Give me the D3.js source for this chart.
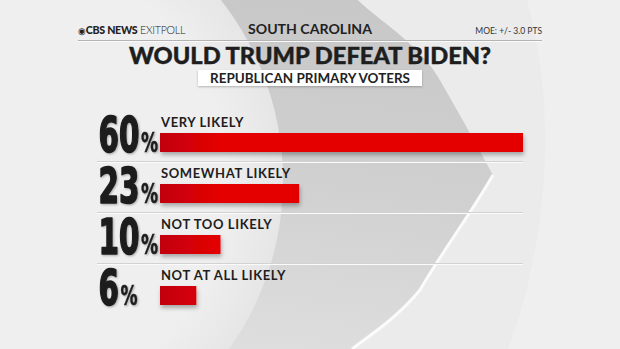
<!DOCTYPE html>
<html>
<head>
<meta charset="utf-8">
<script src="https://cdn.jsdelivr.net/npm/d3@7"></script>
<style>
  html, body { margin: 0; padding: 0; background: #ececec; }
  svg { display: block; }
</style>
</head>
<body>
<div id="chart"></div>
<script>
// ---- data ----
const categories = ["VERY LIKELY", "SOMEWHAT LIKELY", "NOT TOO LIKELY", "NOT AT ALL LIKELY"];
const values = [60, 23, 10, 6];
const headerLeftBold = "CBS NEWS";
const headerLeftLight = "EXITPOLL";
const headerCenter = "SOUTH CAROLINA";
const headerRight = "MOE: +/- 3.0 PTS";
const title = "WOULD TRUMP DEFEAT BIDEN?";
const subtitle = "REPUBLICAN PRIMARY VOTERS";

const W = 620, H = 349;
const svg = d3.select("#chart").append("svg").attr("width", W).attr("height", H);
const defs = svg.append("defs");

// ---- background ----
const bgGrad = defs.append("linearGradient").attr("id", "bg").attr("x1", 0).attr("y1", 0).attr("x2", 1).attr("y2", 1);
bgGrad.append("stop").attr("offset", 0).attr("stop-color", "#f2f2f2");
bgGrad.append("stop").attr("offset", 1).attr("stop-color", "#e7e7e7");
svg.append("rect").attr("width", W).attr("height", H).attr("fill", "url(#bg)");

// darker swoosh region
const swGrad = defs.append("linearGradient").attr("id", "sw").attr("x1", 0.2).attr("y1", 0).attr("x2", 0.1).attr("y2", 1);
swGrad.append("stop").attr("offset", 0).attr("stop-color", "#c8c8c8");
swGrad.append("stop").attr("offset", 0.45).attr("stop-color", "#cfcfcf");
swGrad.append("stop").attr("offset", 1).attr("stop-color", "#dedede");
svg.append("path")
  .attr("d", "M215,0 L358,0 C385,25 420,45 440,80 C460,115 480,150 493,175 C470,215 440,255 420,290 C395,320 370,335 352,349 L225,349 Z")
  .attr("fill", "url(#sw)");
// lighter area right of swoosh
svg.append("path")
  .attr("d", "M358,0 L620,0 L620,349 L352,349 C370,335 395,320 420,290 C440,255 470,215 493,175 C480,150 460,115 440,80 C420,45 385,25 358,0 Z")
  .attr("fill", "#ebebeb");
// white stripe along lower chevron edge
svg.append("path")
  .attr("d", "M493,175 C470,215 440,255 420,290 C395,320 370,335 352,349")
  .attr("fill", "none").attr("stroke", "#fbfbfb").attr("stroke-width", 3);
// far right subtle arc
svg.append("path")
  .attr("d", "M527,0 C560,120 545,250 508,349 L620,349 L620,0 Z")
  .attr("fill", "#efefef");
// big lighter circle on the left
const circGrad = defs.append("radialGradient").attr("id", "circ").attr("cx", 0.5).attr("cy", 0.5).attr("r", 0.5);
circGrad.append("stop").attr("offset", 0.8).attr("stop-color", "#efefef");
circGrad.append("stop").attr("offset", 1).attr("stop-color", "#e6e6e6");
svg.append("circle").attr("cx", -9).attr("cy", 180).attr("r", 292).attr("fill", "url(#circ)");

// ---- header ----
const headerFont = "Lato, 'Open Sans', sans-serif";
const hl = svg.append("text").attr("x", 78).attr("y", 34).attr("font-family", headerFont).attr("font-size", 11).attr("fill", "#222")
  .attr("textLength", 107).attr("lengthAdjust", "spacingAndGlyphs");
hl.append("tspan").text("◉").attr("font-size", 9);
hl.append("tspan").text(headerLeftBold).attr("font-weight", 900).attr("letter-spacing", -0.3);
hl.append("tspan").text(" " + headerLeftLight).attr("font-weight", 300).attr("letter-spacing", -0.3);

svg.append("text").attr("x", 310).attr("y", 34).attr("text-anchor", "middle")
  .attr("font-family", headerFont).attr("font-weight", 700).attr("font-size", 13)
  .attr("fill", "#222").attr("textLength", 124).attr("lengthAdjust", "spacingAndGlyphs").text(headerCenter);

svg.append("text").attr("x", 542).attr("y", 34).attr("text-anchor", "end")
  .attr("font-family", headerFont).attr("font-weight", 400).attr("font-size", 8.5)
  .attr("fill", "#333").text(headerRight);

svg.append("line").attr("x1", 78).attr("x2", 542).attr("y1", 40.5).attr("y2", 40.5)
  .attr("stroke", "#b4b4b4").attr("stroke-width", 1);
svg.append("line").attr("x1", 78).attr("x2", 542).attr("y1", 41.5).attr("y2", 41.5)
  .attr("stroke", "#fafafa").attr("stroke-width", 1);

svg.append("text").attr("x", 310).attr("y", 63.5).attr("text-anchor", "middle")
  .attr("font-family", headerFont).attr("font-weight", 900).attr("font-size", 22)
  .attr("fill", "#1e1e1e").attr("stroke", "#1e1e1e").attr("stroke-width", 0.4)
  .attr("textLength", 362).attr("lengthAdjust", "spacingAndGlyphs").text(title);

const subShadow = defs.append("filter").attr("id", "boxsh").attr("x", -0.1).attr("y", -0.3).attr("width", 1.2).attr("height", 1.8);
subShadow.append("feDropShadow").attr("dx", 0).attr("dy", 1).attr("stdDeviation", 1).attr("flood-color", "#000").attr("flood-opacity", 0.25);
svg.append("rect").attr("x", 198).attr("y", 70).attr("width", 224).attr("height", 16)
  .attr("fill", "#ffffff").attr("filter", "url(#boxsh)");
svg.append("text").attr("x", 310).attr("y", 82.5).attr("text-anchor", "middle")
  .attr("font-family", headerFont).attr("font-weight", 700).attr("font-size", 12.5)
  .attr("fill", "#222").attr("textLength", 200).attr("lengthAdjust", "spacingAndGlyphs").text(subtitle);

// ---- chart ----
const x = d3.scaleLinear().domain([0, 60]).range([160, 523]);
const y = d3.scaleBand().domain(categories).range([110, 314]).padding(0);
const bw = y.bandwidth();

const barGrad = defs.append("linearGradient").attr("id", "bar").attr("gradientUnits", "userSpaceOnUse")
  .attr("x1", x(0)).attr("x2", x(0) + 60).attr("y1", 0).attr("y2", 0);
barGrad.append("stop").attr("offset", 0).attr("stop-color", "#c2000f");
barGrad.append("stop").attr("offset", 1).attr("stop-color", "#e50000");

const barSh = defs.append("filter").attr("id", "barsh").attr("x", -0.1).attr("y", -0.5).attr("width", 1.3).attr("height", 2.2);
barSh.append("feDropShadow").attr("dx", 1).attr("dy", 3).attr("stdDeviation", 2).attr("flood-color", "#000").attr("flood-opacity", 0.3);

const txtSh = defs.append("filter").attr("id", "txtsh").attr("x", -0.2).attr("y", -0.2).attr("width", 1.4).attr("height", 1.4);
txtSh.append("feDropShadow").attr("dx", 1).attr("dy", 1).attr("stdDeviation", 0.8).attr("flood-color", "#000").attr("flood-opacity", 0.3);

// separators
categories.slice(0, -1).forEach(c => {
  const yy = y(c) + bw;
  svg.append("line").attr("x1", 97).attr("x2", x(60)).attr("y1", yy + 0.5).attr("y2", yy + 0.5)
    .attr("stroke", "#d2d2d2");
  svg.append("line").attr("x1", 97).attr("x2", x(60)).attr("y1", yy + 1.5).attr("y2", yy + 1.5)
    .attr("stroke", "#fbfbfb");
});

const rows = svg.append("g").selectAll("g").data(categories).join("g");

rows.append("rect")
  .attr("x", x(0))
  .attr("y", d => y(d) + 23)
  .attr("width", (d, i) => x(values[i]) - x(0))
  .attr("height", 19)
  .attr("fill", "url(#bar)")
  .attr("filter", "url(#barsh)");

rows.append("text")
  .attr("x", x(0) + 1)
  .attr("y", d => y(d) + 17)
  .attr("font-family", headerFont).attr("font-weight", 700).attr("font-size", 13)
  .attr("letter-spacing", 0.6)
  .attr("fill", "#1e1e1e")
  .text(d => d);

// numbers
const numFont = "'Liberation Sans Narrow', 'DejaVu Sans Condensed', 'Liberation Sans', sans-serif";
const numG = rows.append("g").attr("filter", "url(#txtsh)");
const nums = numG.append("text")
  .attr("font-family", numFont).attr("font-weight", 700).attr("font-size", 49)
  .attr("fill", "#1c1c1c").attr("stroke", "#1c1c1c").attr("stroke-width", 1.6)
  .attr("stroke-linejoin", "round")
  .text((d, i) => values[i]);
// compress so "60" spans ~41px
const ref = nums.nodes()[0].getComputedTextLength();
const k = 41 / ref;
nums.attr("transform", d => `translate(98.5,${y(d) + 42}) scale(${k},1.03)`);
numG.append("text")
  .attr("font-family", numFont).attr("font-weight", 700).attr("font-size", 27)
  .attr("fill", "#1c1c1c").attr("stroke", "#1c1c1c").attr("stroke-width", 0.5)
  .attr("transform", function(d, i) {
    const w = nums.nodes()[i].getComputedTextLength() * k;
    return `translate(${98.5 + w + 1.5},${y(d) + 42}) scale(${k * 1.05},1)`;
  })
  .text("%");
</script>
</body>
</html>
